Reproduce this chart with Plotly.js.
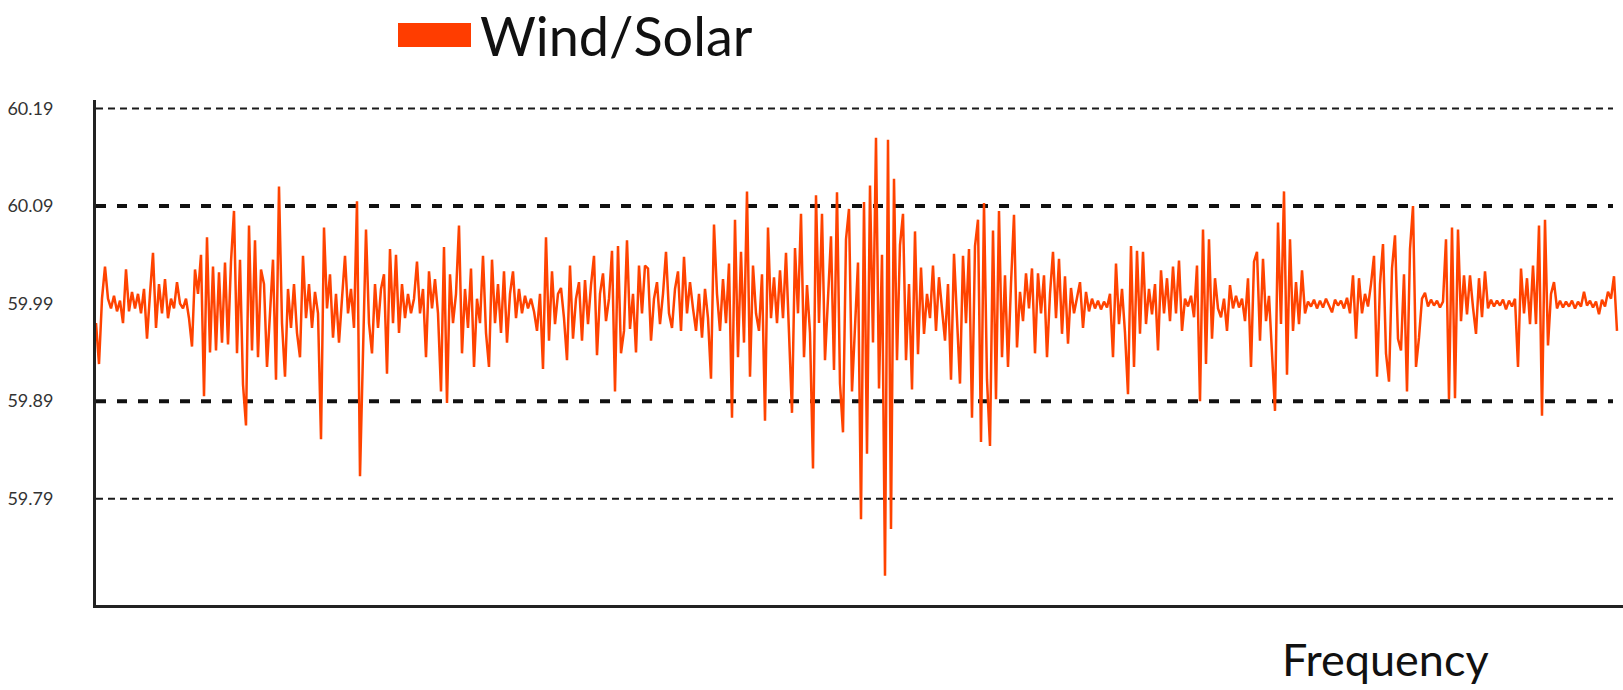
<!DOCTYPE html>
<html>
<head>
<meta charset="utf-8">
<script src="https://cdn.plot.ly/plotly-3.0.1.min.js"></script>
<style>
  html, body { margin: 0; padding: 0; background: #ffffff; }
  #chart { width: 1623px; height: 690px; }
</style>
</head>
<body>
<div id="chart"></div>
<script>
// Grid frequency samples (Hz), left to right
const frequency = [
59.970,59.928,59.995,60.028,59.995,59.985,59.998,59.982,59.993,59.970,
60.025,59.982,60.002,59.985,60.000,59.980,60.005,59.954,60.000,60.042,
59.965,60.010,59.980,60.015,59.975,59.995,59.985,60.012,59.990,59.985,
59.995,59.975,59.946,60.025,60.000,60.040,59.895,60.058,59.940,60.028,
59.942,60.022,59.950,60.032,59.948,60.033,60.085,59.939,60.035,59.907,
59.865,60.070,59.942,60.055,59.935,60.025,60.010,59.925,59.980,60.035,
59.912,60.110,59.970,59.915,60.005,59.965,60.010,59.960,59.935,60.039,
59.975,60.010,59.965,60.002,59.980,59.851,60.068,59.985,60.020,59.955,
60.000,59.950,59.995,60.039,59.980,60.005,59.965,60.095,59.813,59.930,
60.066,59.970,59.939,60.010,59.965,60.005,60.020,59.918,60.046,59.970,
60.040,59.960,60.010,59.975,60.000,59.980,59.995,60.033,59.980,60.005,
59.935,60.023,59.985,60.015,59.980,59.900,60.048,59.888,60.020,59.970,
60.000,60.070,59.939,60.005,59.965,60.026,59.925,59.995,59.970,60.039,
59.960,59.925,60.035,59.970,60.010,59.960,60.023,59.950,60.000,60.023,
59.975,60.005,59.980,59.998,59.985,59.995,59.982,59.962,60.000,59.923,
60.058,59.952,60.023,59.969,60.000,60.006,59.975,59.932,60.029,59.954,
59.995,60.012,59.952,60.014,59.969,60.009,60.039,59.937,60.000,60.021,
59.972,59.995,60.044,59.900,60.049,59.939,59.962,60.055,59.964,60.000,
59.940,60.029,59.980,60.029,60.026,59.952,59.995,60.012,59.969,60.000,
60.043,59.980,59.965,60.005,60.023,59.962,60.038,59.980,60.012,59.985,
59.962,60.000,59.955,60.005,59.975,59.913,60.071,60.000,59.962,60.015,
59.970,60.031,59.873,60.076,59.935,60.043,59.950,60.105,59.915,60.029,
59.980,59.962,60.020,59.870,60.068,59.975,60.017,59.970,60.024,59.975,
60.042,59.960,59.878,60.047,59.980,60.082,59.935,60.009,59.960,59.821,
60.101,59.970,60.082,59.932,60.000,60.059,59.922,60.104,59.908,59.858,
60.056,60.087,59.900,59.970,60.032,59.769,60.094,59.836,60.111,59.950,
60.160,59.903,60.040,59.711,60.158,59.759,60.118,59.932,60.050,60.082,
59.932,60.010,59.902,60.064,59.938,60.027,59.959,60.000,59.975,60.029,
59.962,60.017,59.980,59.952,60.010,59.912,60.041,59.980,59.908,60.039,
59.970,60.046,59.873,60.049,60.076,59.848,60.093,59.912,59.844,60.065,
59.892,60.085,59.935,60.019,59.925,60.010,60.081,59.945,60.002,59.972,
60.021,59.985,60.026,59.939,60.021,59.980,60.019,59.935,60.000,60.043,
59.975,60.036,59.959,60.018,59.949,60.006,59.980,59.996,60.012,59.965,
60.002,59.982,59.995,59.985,59.993,59.984,59.992,59.986,60.000,59.935,
60.031,59.969,60.005,59.960,59.897,60.049,59.925,60.044,59.959,60.043,
59.969,60.005,59.979,60.010,59.942,60.024,59.980,60.016,59.972,60.028,
59.980,60.034,59.962,59.995,59.987,59.998,59.976,60.029,59.890,60.066,
59.928,60.056,59.954,60.016,59.985,59.976,59.995,59.962,60.009,59.985,
59.998,59.986,59.995,59.972,60.016,59.925,60.033,60.043,59.952,60.036,
59.972,59.998,59.939,59.880,60.073,59.969,60.105,59.917,60.056,59.962,
60.012,59.969,60.024,59.980,59.992,59.987,59.994,59.985,59.993,59.986,
59.995,59.987,59.981,59.994,59.988,59.993,59.985,59.996,59.980,60.019,
59.954,60.016,59.980,60.000,59.987,60.010,60.039,59.915,60.010,60.051,
59.939,59.910,60.026,60.060,59.954,59.942,60.020,59.900,60.046,60.090,
59.925,59.955,59.995,60.001,59.987,59.994,59.988,59.993,59.986,59.992,
60.056,59.892,60.068,59.893,60.066,59.972,60.019,59.979,60.019,59.986,
59.959,60.016,59.976,60.023,59.985,59.994,59.987,59.993,59.988,59.994,
59.984,59.993,59.987,59.995,59.925,60.026,59.980,60.016,59.969,60.029,
59.969,60.070,59.875,60.076,59.947,60.000,60.012,59.985,59.993,59.986,
59.992,59.987,59.993,59.985,59.992,59.987,60.002,59.988,59.993,59.986,
59.992,59.979,59.994,59.987,60.002,59.995,60.018,59.962
];
const sampleIndex = frequency.map((_, i) => i);

// Y axis tick values and their labels
const yTickValues = [59.79, 59.89, 59.99, 60.09, 60.19];
const yTickLabels = ["59.79", "59.89", "59.99", "60.09", "60.19"];

// Reference lines
const limitsInner = [59.89, 60.09];   // thick dashed
const limitsOuter = [59.79, 60.19];   // fine dotted

const seriesName = "Wind/Solar";
const xTitle = "Frequency";
const lineColor = "#FF4300";

// pixel helpers for the fixed 1623x690 canvas
const W = 1623, H = 690, L = 96, T = 100, B = 605;
const px = x => (x - L) / (W - L);
const py = y => (B - y) / (B - T);

const shapes = [];
limitsOuter.forEach(v => shapes.push({
  type: "line", xref: "paper", yref: "y", x0: 0, x1: px(1613), y0: v, y1: v,
  line: { color: "#1a1a1a", width: 2, dash: "7px,5px" }, layer: "below"
}));
limitsInner.forEach(v => shapes.push({
  type: "line", xref: "paper", yref: "y", x0: 0, x1: px(1613), y0: v, y1: v,
  line: { color: "#111", width: 4, dash: "10px,11px" }, layer: "below"
}));
// legend swatch
shapes.push({
  type: "rect", xref: "paper", yref: "paper",
  x0: px(398), x1: px(471), y0: py(47), y1: py(23),
  fillcolor: "#FF3D00", line: { width: 0 }
});

const trace = {
  x: sampleIndex,
  y: frequency,
  type: "scatter",
  mode: "lines",
  name: seriesName,
  line: { color: lineColor, width: 2.5 },
  hoverinfo: "y",
  showlegend: false
};

const layout = {
  width: W, height: H,
  margin: { l: L, r: 0, t: T, b: H - B, pad: 0 },
  paper_bgcolor: "#ffffff",
  plot_bgcolor: "#ffffff",
  showlegend: false,
  font: { family: "Lato, 'Open Sans', sans-serif", color: "#222" },
  xaxis: {
    range: [0, frequency.length + 1],
    showgrid: false, zeroline: false, showticklabels: false, ticks: "",
    showline: true, linecolor: "#222", linewidth: 3
  },
  yaxis: {
    range: [59.681, 60.1987],
    tickmode: "array", tickvals: yTickValues, ticktext: yTickLabels,
    showgrid: false, zeroline: false, ticks: "",
    showline: true, linecolor: "#222", linewidth: 3,
    ticklabelstandoff: 36,
    tickfont: { family: "Lato, sans-serif", size: 18, color: "#333" }
  },
  shapes: shapes,
  annotations: [
    {
      xref: "paper", yref: "paper", x: px(478), y: py(35),
      xanchor: "left", yanchor: "middle", showarrow: false,
      text: seriesName, font: { family: "Lato, sans-serif", size: 54, color: "#111" }
    },
    {
      xref: "paper", yref: "paper", x: px(1385), y: py(659),
      xanchor: "center", yanchor: "middle", showarrow: false,
      text: xTitle, font: { family: "Lato, sans-serif", size: 45, color: "#111" }
    }
  ]
};

Plotly.newPlot("chart", [trace], layout, { staticPlot: true, displayModeBar: false });
</script>
</body>
</html>
